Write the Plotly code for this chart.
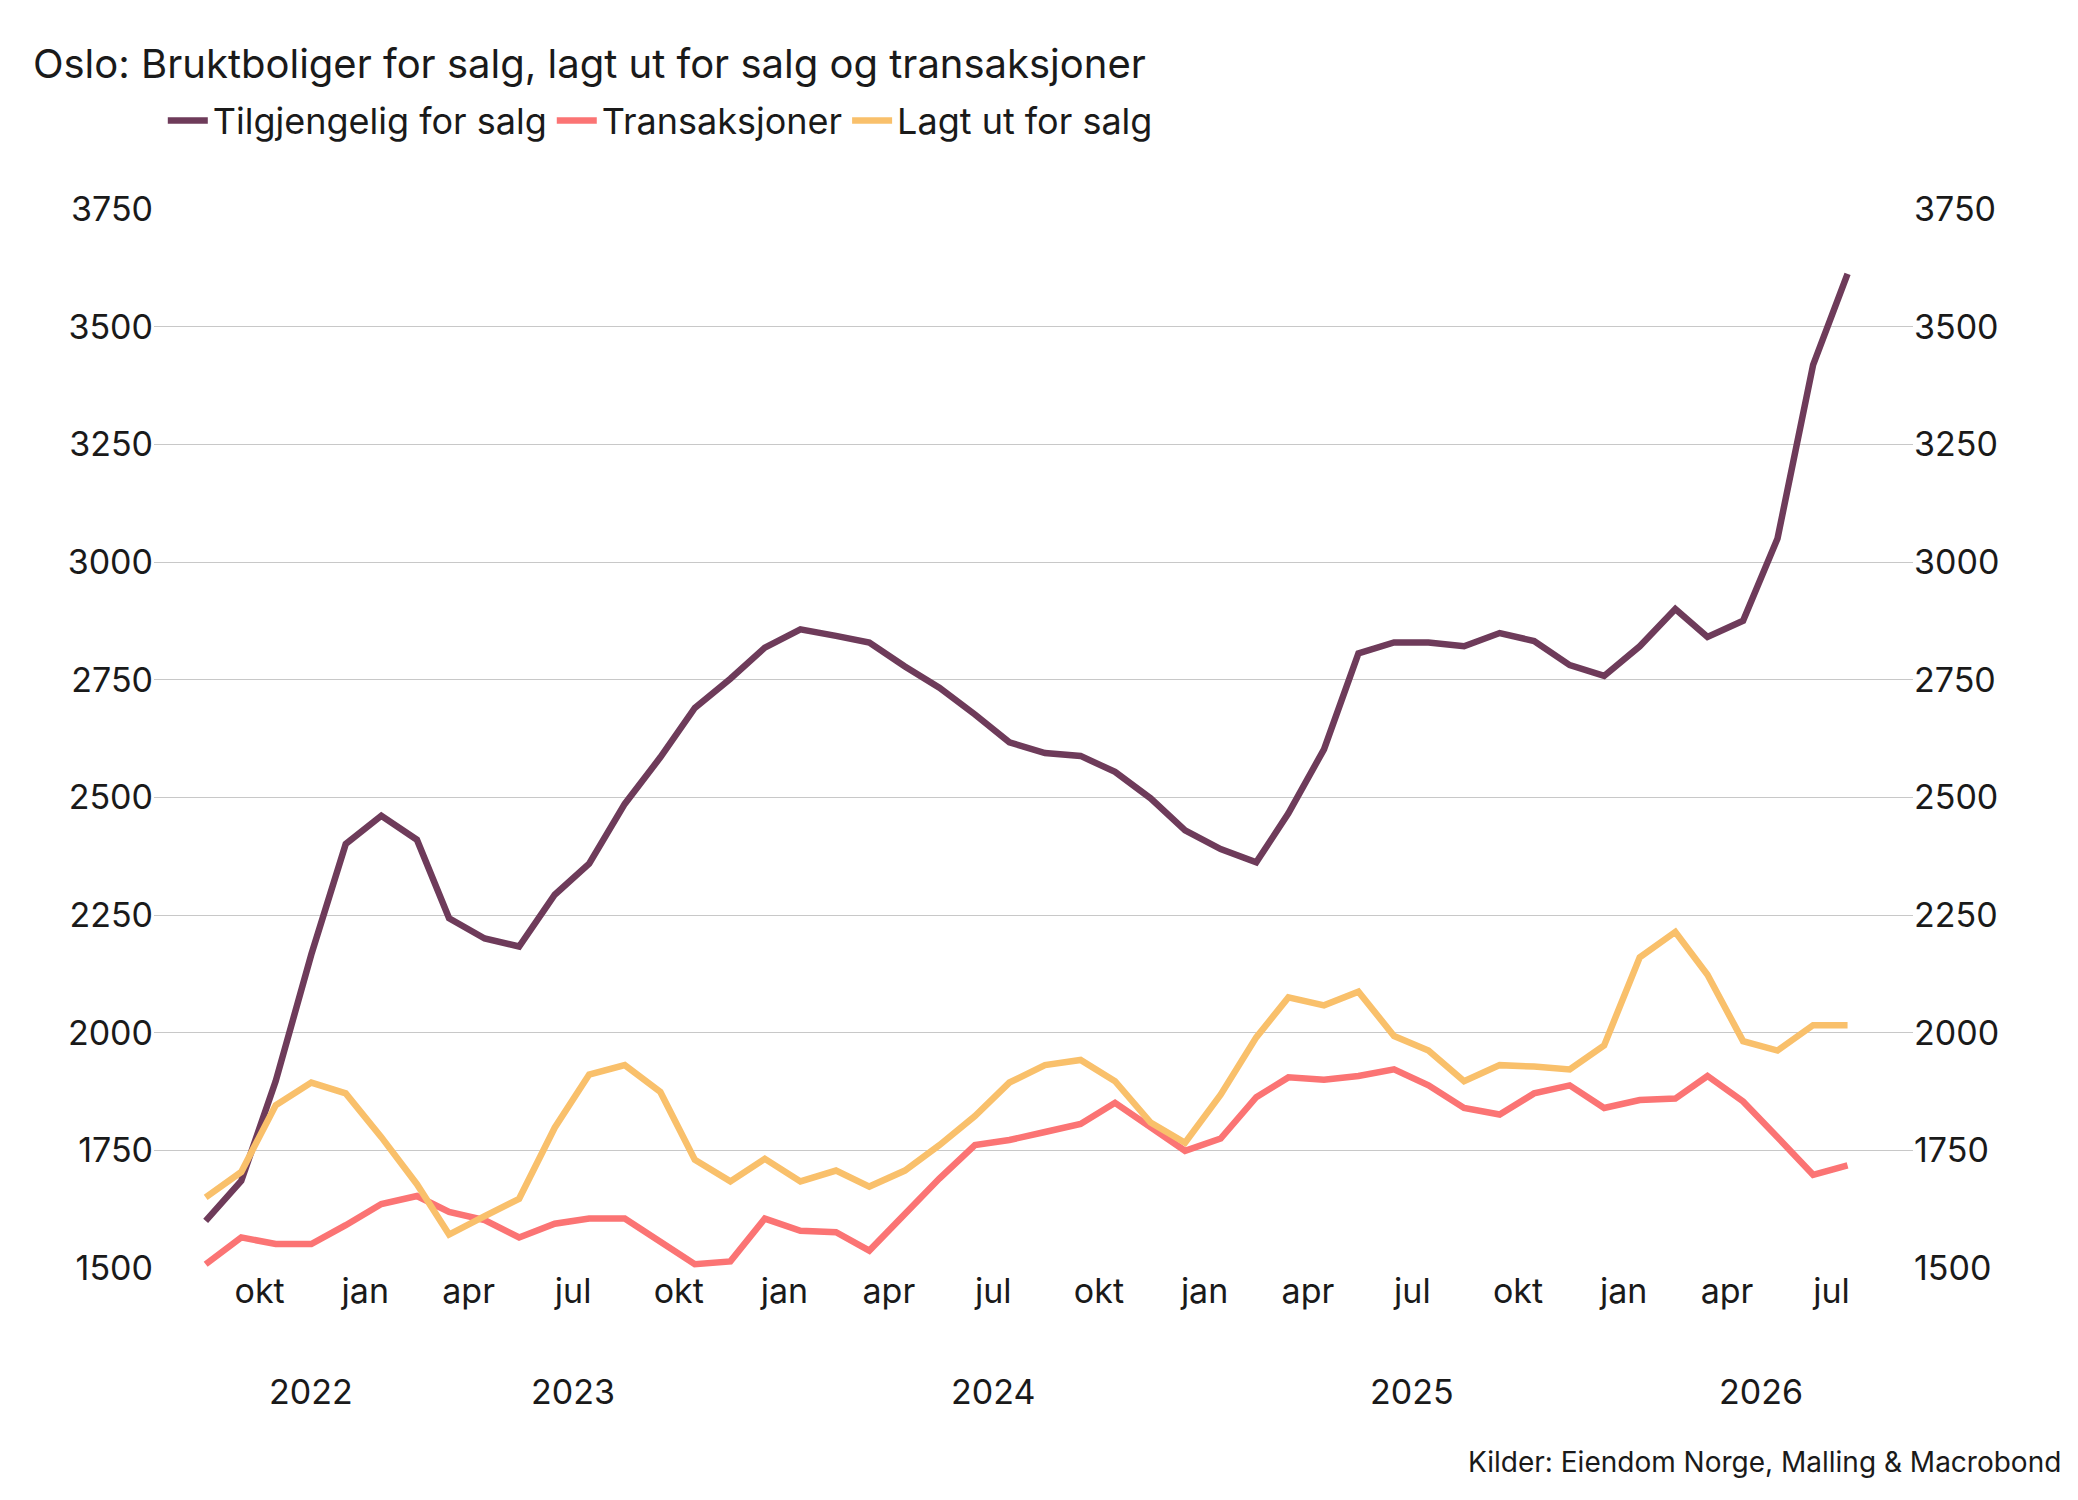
import pandas as pd
import plotly.graph_objects as go

months = pd.date_range("2022-08-01", "2026-07-01", freq="MS") + pd.Timedelta(days=14)

tilgjengelig = [1600, 1685, 1897, 2166, 2401, 2461, 2410, 2243, 2200, 2183, 2293, 2359,
                2486, 2585, 2690, 2752, 2818, 2857, 2843, 2829, 2778, 2733, 2676, 2617,
                2594, 2588, 2554, 2498, 2430, 2390, 2362, 2466, 2602, 2806, 2829, 2829,
                2821, 2849, 2832, 2781, 2758, 2821, 2900, 2841, 2875, 3050, 3419, 3612]
transaksjoner = [1508, 1565, 1551, 1551, 1591, 1636, 1653, 1619, 1602, 1565, 1594, 1605,
                 1605, 1557, 1508, 1514, 1605, 1579, 1576, 1537, 1616, 1690, 1761, 1772,
                 1789, 1806, 1851, 1798, 1749, 1775, 1863, 1905, 1900, 1908, 1922, 1888,
                 1840, 1826, 1871, 1888, 1840, 1857, 1860, 1908, 1854, 1778, 1698, 1718]
lagt_ut = [1650, 1704, 1846, 1894, 1871, 1778, 1678, 1571, 1610, 1647, 1798, 1911,
           1931, 1874, 1730, 1684, 1732, 1684, 1707, 1673, 1707, 1761, 1823, 1894,
           1931, 1942, 1897, 1809, 1766, 1868, 1990, 2075, 2058, 2087, 1993, 1962,
           1897, 1931, 1928, 1922, 1973, 2160, 2214, 2123, 1982, 1962, 2016, 2016]

tick_dates = pd.date_range("2022-10-01", "2026-07-01", freq="3MS")
month_names = {1: "jan", 4: "apr", 7: "jul", 10: "okt"}
tick_text = [month_names[d.month] for d in tick_dates]
year_labels = ["2022", "2023", "2024", "2025", "2026"]
year_pos = ["2022-11-15", "2023-07-01", "2024-07-01", "2025-07-01", "2026-05-01"]
y_ticks = [1500, 1750, 2000, 2250, 2500, 2750, 3000, 3250, 3500, 3750]

FONT = "Inter"
fig = go.Figure()
for name, vals, color in [("Tilgjengelig for salg", tilgjengelig, "#6e3b5a"),
                          ("Transaksjoner", transaksjoner, "#fb7474"),
                          ("Lagt ut for salg", lagt_ut, "#f9c06b")]:
    fig.add_trace(go.Scatter(x=months, y=vals, name=name, mode="lines",
                             line=dict(color=color, width=6.5)))
# dummy trace for the right axis
fig.add_trace(go.Scatter(x=[months[0]], y=[1500], yaxis="y2", showlegend=False,
                         mode="markers", marker=dict(opacity=0), hoverinfo="skip"))

axis_y = dict(range=[1500, 3750], tickvals=y_ticks, showgrid=True, gridcolor="#c8c8c8",
              gridwidth=1.3, zeroline=False, showline=False, ticks="",
              tickfont=dict(size=34, color="#1a1a1a"))
fig.update_layout(
    width=2078, height=1500,
    plot_bgcolor="white", paper_bgcolor="white",
    font=dict(family=FONT, color="#1a1a1a"),
    margin=dict(l=146, r=173, t=201, b=240),
    title=dict(text="Oslo: Bruktboliger for salg, lagt ut for salg og transaksjoner",
               x=0.012, xanchor="left", y=0.972, yanchor="top",
               font=dict(size=40, color="#1a1a1a")),
    legend=dict(orientation="h", x=0.005, xanchor="left", y=0.945, yref="container",
                yanchor="top", font=dict(size=36), itemwidth=40, tracegroupgap=0),
    xaxis=dict(range=["2022-07-01", "2026-09-10"], tickvals=tick_dates, ticktext=tick_text,
               showgrid=False, zeroline=False, showline=False, ticks="",
               tickfont=dict(size=34, color="#1a1a1a")),
    yaxis=axis_y,
    yaxis2=dict(axis_y, overlaying="y", side="right", matches="y", showgrid=False),
    showlegend=True,
)

fig.add_annotation(text="antall boliger,<br>sesongjustert og glattet 3 mnd",
                   x="2022-08-01", y=3760, xanchor="left", yanchor="top", align="left",
                   showarrow=False, font=dict(size=34, color="#666666"))
for lab, pos in zip(year_labels, year_pos):
    fig.add_annotation(text=lab, x=pos, y=-0.095, yref="paper", xanchor="center",
                       yanchor="top", showarrow=False, font=dict(size=34, color="#1a1a1a"))
fig.add_annotation(text="Kilder: Eiendom Norge, Malling & Macrobond", x=1.085, xref="paper",
                   xanchor="right", y=-0.165, yref="paper", yanchor="top",
                   showarrow=False, font=dict(size=28, color="#1a1a1a"))

fig.write_html("out.html")
